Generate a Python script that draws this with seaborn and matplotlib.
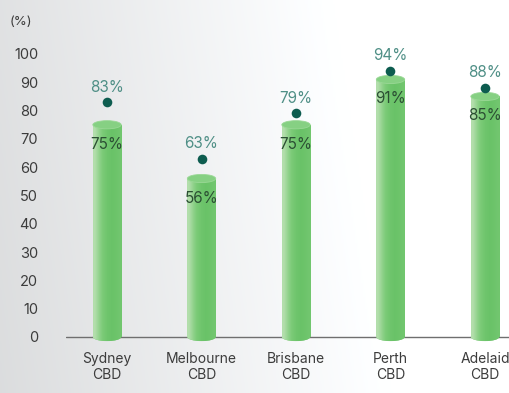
import numpy as np
import matplotlib
matplotlib.use("Agg")
import matplotlib.pyplot as plt
from matplotlib.patches import Ellipse
import seaborn as sns

# values
cities = ["Sydney\nCBD", "Melbourne\nCBD", "Brisbane\nCBD", "Perth\nCBD", "Adelaid\nCBD"]
inner_vals = [75, 56, 75, 91, 85]
outer_vals = [83, 63, 79, 94, 88]
y_ticks = [0, 10, 20, 30, 40, 50, 60, 70, 80, 90, 100]

sns.set_theme(style="white")
plt.rcParams["font.family"] = ["Inter", "DejaVu Sans"]

fig = plt.figure(figsize=(5.09, 3.93), dpi=100)

# grey-to-white background
bg = fig.add_axes([0, 0, 1, 1], zorder=-10)
gx = np.linspace(0, 1, 256)
gy = np.linspace(0, 1, 256)
GX, GY = np.meshgrid(gx, gy)
shade = 0.86 + 0.14 * np.clip(GX * 1.3 + (1 - GY) * 0.15, 0, 1)
bg.imshow(np.dstack([shade, shade + 0.005, shade + 0.01]).clip(0, 1), aspect="auto",
          extent=[0, 1, 0, 1], origin="upper")
bg.axis("off")

# axes: x from px 66 to 533 (goes past right edge), y ylim(-4, 110)
ax = fig.add_axes([66 / 509, 44.7 / 393, (533 - 66) / 509, 322.6 / 393])
ax.patch.set_alpha(0)

bar_w = 0.3
sns.barplot(x=cities, y=inner_vals, width=bar_w, color="#7cc97a", ax=ax, zorder=3,
            linewidth=0)

ell_h = 2.9
grad = np.array([[0.0, 0.3, 0.55, 0.75, 0.85, 0.8, 0.7]])
cmap = matplotlib.colors.LinearSegmentedColormap.from_list(
    "cyl", ["#b2deab", "#7ccb78", "#62bf61"])
for i, (p, v) in enumerate(zip(ax.patches, inner_vals)):
    x0 = p.get_x()
    w = p.get_width()
    p.set_facecolor("none")
    # rounded bottom
    bot = Ellipse((x0 + w / 2, 0), w, ell_h, facecolor="#79c877", lw=0, zorder=2)
    ax.add_patch(bot)
    im = ax.imshow(grad, cmap=cmap, vmin=0, vmax=1, aspect="auto",
                   interpolation="bilinear", extent=[x0, x0 + w, 0, v], zorder=3)
    im.set_clip_path(p)
    bot_im = ax.imshow(grad, cmap=cmap, vmin=0, vmax=1, aspect="auto",
                       interpolation="bilinear",
                       extent=[x0, x0 + w, -ell_h / 2, v], zorder=2.5)
    bot_im.set_clip_path(bot)
    top = Ellipse((x0 + w / 2, v), w, ell_h, facecolor="#86d083",
                  edgecolor="#9ad896", lw=0.6, zorder=4)
    ax.add_patch(top)
    ax.text(i, v - 6.9, f"{v}%", ha="center", va="center", fontsize=11,
            color="#2b4f33", zorder=6)

sns.scatterplot(x=cities, y=outer_vals, color="#0d5c4f", s=48, linewidth=0,
                ax=ax, zorder=5)
for i, v in enumerate(outer_vals):
    ax.text(i, v + 5.3, f"{v}%", ha="center", va="center", fontsize=11,
            color="#4f8f86", zorder=6)

ax.axhline(0, color="#6f6f6f", lw=1.0, zorder=1)
ax.set_xlim(-0.434, 4.508)
ax.set_ylim(-4, 110)
ax.set_yticks(y_ticks)
ax.set_yticklabels([str(t) for t in y_ticks])
ax.tick_params(axis="y", length=0, pad=20, labelsize=10.5, labelcolor="#3c3c3c")
ax.tick_params(axis="x", length=0, pad=3, labelsize=10, labelcolor="#3c3c3c")
for lab in ax.get_xticklabels():
    lab.set_linespacing(1.12)
for s in ax.spines.values():
    s.set_visible(False)
ax.set_xlabel("")
ax.set_ylabel("")

fig.text(10 / 509, 1 - 22 / 393, "(%)", ha="left", va="center", fontsize=9.5,
         color="#3c3c3c")

fig.savefig("out.png", dpi=100)
